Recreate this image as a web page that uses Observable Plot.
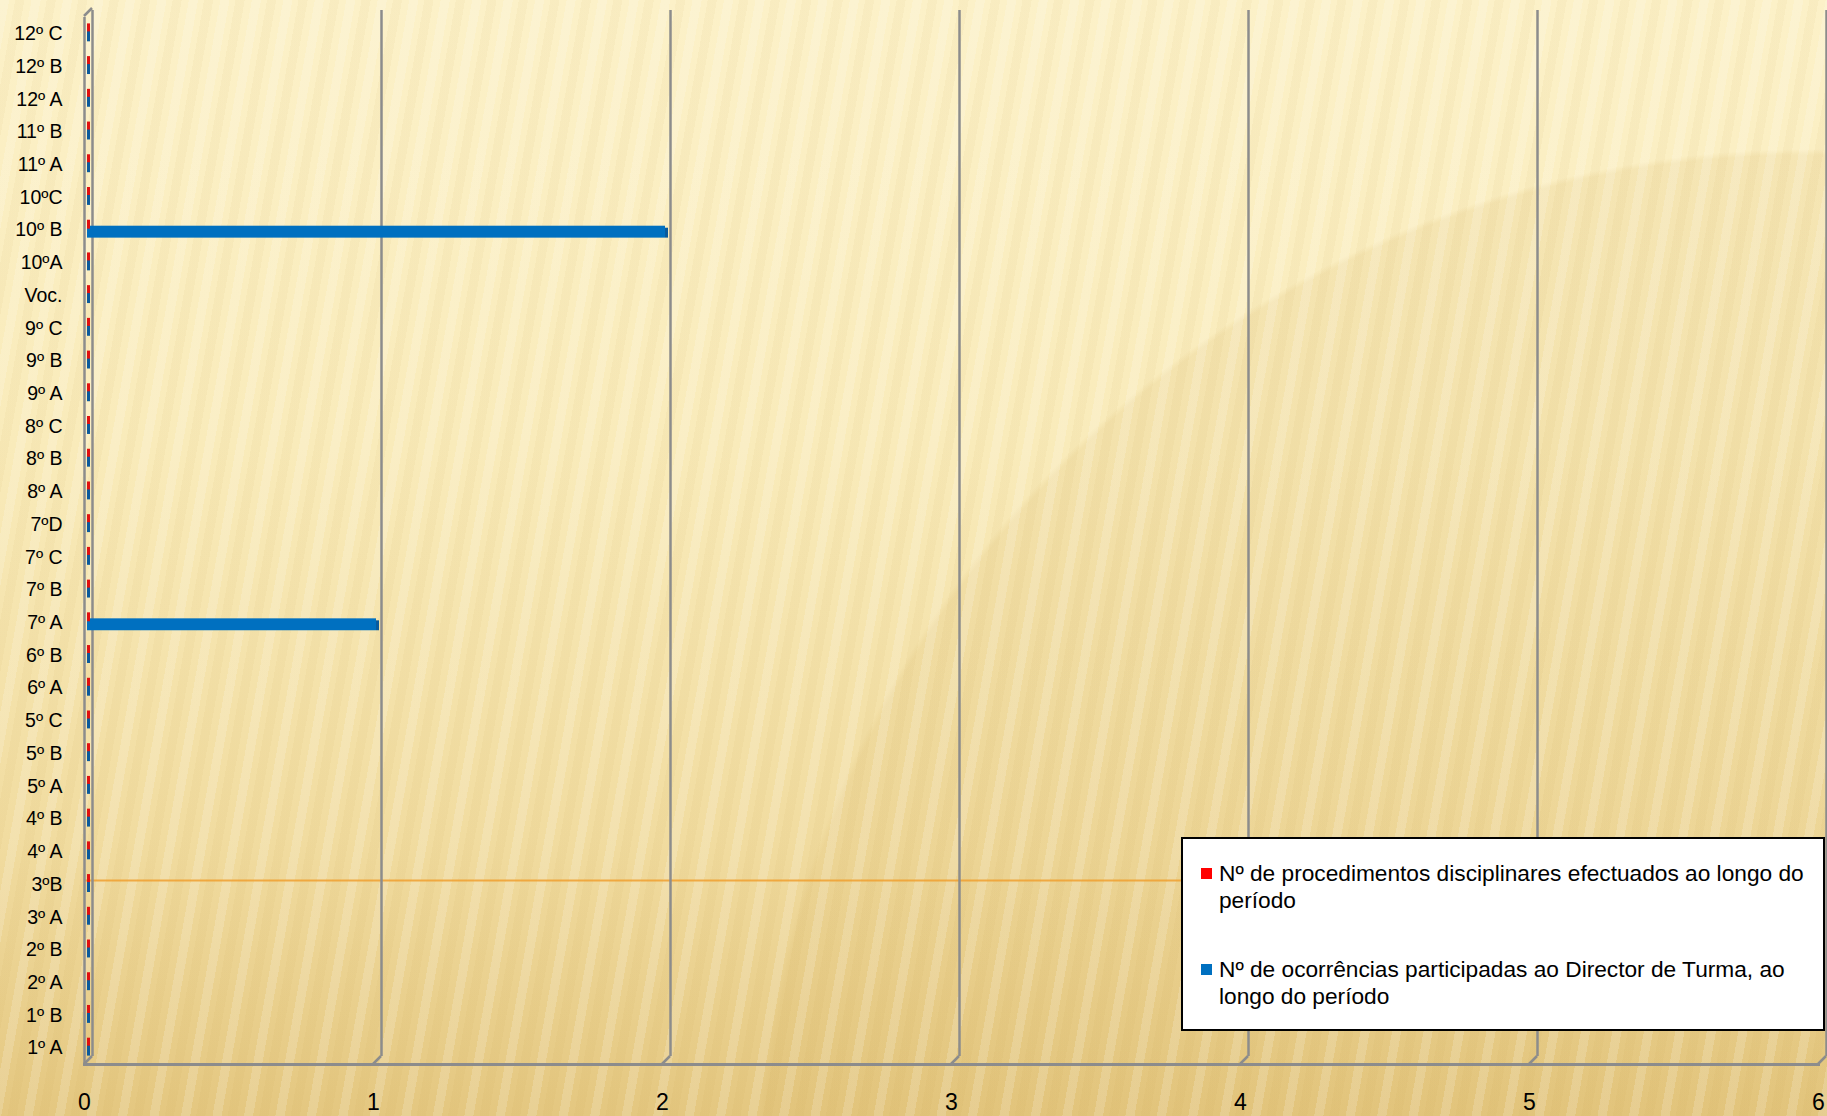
<!DOCTYPE html>
<html>
<head>
<meta charset="utf-8">
<script src="https://cdn.jsdelivr.net/npm/d3@7"></script>
<script src="https://cdn.jsdelivr.net/npm/@observablehq/plot@0.6"></script>
<style>
  html, body { margin: 0; padding: 0; }
  body {
    width: 1827px; height: 1116px; overflow: hidden; position: relative;
    font-family: "Liberation Sans", Arial, sans-serif;
    background:
      repeating-linear-gradient(100deg, rgba(255,255,255,0.16) 0 9px, rgba(255,255,255,0) 9px 15px, rgba(185,145,55,0.05) 15px 24px, rgba(255,255,255,0) 24px 31px),
      radial-gradient(circle at 1808px 1201px, rgba(215,180,100,0.16) 0, rgba(215,180,100,0.16) 1046px, rgba(215,180,100,0) 1052px),
      linear-gradient(180deg, #FCF1C8 0%, #F9EBBA 40%, #F1DCA0 75%, #E4C780 100%);
  }
  #chart { position: absolute; left: 0; top: 0; }
  #legend {
    position: absolute; left: 1181px; top: 837px; width: 640px; height: 190px;
    background: #fff; border: 2px solid #000; box-sizing: content-box;
    font-size: 22.7px; line-height: 27px; color: #000;
  }
  .item { position: absolute; left: 36px; white-space: nowrap; }
  .sw { position: absolute; left: -18px; top: 8px; width: 11px; height: 11px; }
</style>
</head>
<body>
<div id="chart"></div>
<div id="legend">
  <div class="item" style="top:21px"><span class="sw" style="background:#FF0000"></span>Nº de procedimentos disciplinares efectuados ao longo do<br>período</div>
  <div class="item" style="top:117px"><span class="sw" style="background:#0070C0"></span>Nº de ocorrências participadas ao Director de Turma, ao<br>longo do período</div>
</div>
<script>
// Categories (bottom to top as in the chart)
const categories = ["1º A","1º B","2º A","2º B","3º A","3ºB","4º A","4º B","5º A","5º B","5º C","6º A","6º B","7º A","7º B","7º C","7ºD","8º A","8º B","8º C","9º A","9º B","9º C","Voc.","10ºA","10º B","10ºC","11º A","11º B","12º A","12º B","12º C"];
const seriesNames = ["Nº de procedimentos disciplinares efectuados ao longo do período","Nº de ocorrências participadas ao Director de Turma, ao longo do período"];
const procedimentos = [0,0,0,0,0,0,0,0,0,0,0,0,0,0,0,0,0,0,0,0,0,0,0,0,0,0,0,0,0,0,0,0];
const ocorrencias   = [0,0,0,0,0,0,0,0,0,0,0,0,0,1,0,0,0,0,0,0,0,0,0,0,0,2,0,0,0,0,0,0];
const xTicks = [0,1,2,3,4,5,6];
const highlightRow = ["3ºB"];

const redRows = categories.map((c,i) => ({cat: c, v: procedimentos[i]}));
const blueRows = categories.map((c,i) => ({cat: c, v: ocorrencias[i]}));

const gridColor = "#8C8C8C";
const depth = 8;

// custom mark drawing the 3D wall/gridline corners using the x scale
const corners = (index, scales, values, dims) => {
  const g = d3.create("svg:g");
  const yb = dims.height - dims.marginBottom;
  for (const t of xTicks) {
    const x = scales.x(t);
    g.append("path")
      .attr("d", `M${x + depth},${yb - depth}L${x},${yb}`)
      .attr("stroke", gridColor).attr("stroke-width", 2.5).attr("fill", "none");
  }
  const x0 = scales.x(0);
  g.append("path")
    .attr("d", `M${x0},${dims.marginTop - 1}L${x0 + depth},${dims.marginTop - depth - 1}`)
    .attr("stroke", gridColor).attr("stroke-width", 2.5).attr("fill", "none");
  return g.node();
};

const chart = Plot.plot({
  width: 1827,
  height: 1116,
  marginLeft: 84,
  marginRight: 9,
  marginTop: 17,
  marginBottom: 52,
  style: {background: "transparent", fontFamily: "'Liberation Sans', Arial, sans-serif", fontSize: "21px", color: "#000"},
  x: {domain: [0, 6], ticks: xTicks},
  y: {domain: categories.slice().reverse(), paddingInner: 0.33, paddingOuter: 0.165, round: false},
  marks: [
    Plot.ruleY(highlightRow, {y: d => d, stroke: "#F0A030", strokeWidth: 2, strokeOpacity: 0.85, dy: -4}),
    // back wall gridlines
    Plot.ruleX(xTicks, {x: d => d, dx: depth, stroke: gridColor, strokeWidth: 2.5, insetTop: -7, insetBottom: depth}),
    // left wall front edge
    Plot.ruleX([0], {x: d => d, stroke: gridColor, strokeWidth: 2.5}),
    corners,
    Plot.frame({anchor: "bottom", stroke: gridColor, strokeWidth: 3}),
    // bars
    Plot.barX(redRows, {y: "cat", x1: 0, x2: "v", fill: "#FF0000", insetTop: 0, insetBottom: 12, dx: 3}),
    Plot.barX(blueRows, {y: "cat", x1: 0, x2: "v", fill: "#0070C0", insetTop: 7, insetBottom: 3, dx: 3}),
    // end caps / zero slivers
    Plot.tickX(redRows, {y: "cat", x: "v", stroke: "#E01010", strokeWidth: 3, dx: 4, insetTop: 1, insetBottom: 12}),
    Plot.tickX(blueRows, {y: "cat", x: "v", stroke: "#0A5A9C", strokeWidth: 3, dx: 4, insetTop: 9, insetBottom: 3}),
    Plot.axisY({tickSize: 0, tickPadding: 22, fontSize: 19.5, label: null}),
    Plot.axisX({ticks: xTicks, tickSize: 0, tickPadding: 29, fontSize: 23, label: null, tickFormat: d => String(d)})
  ]
});
document.getElementById("chart").appendChild(chart);
</script>
</body>
</html>
